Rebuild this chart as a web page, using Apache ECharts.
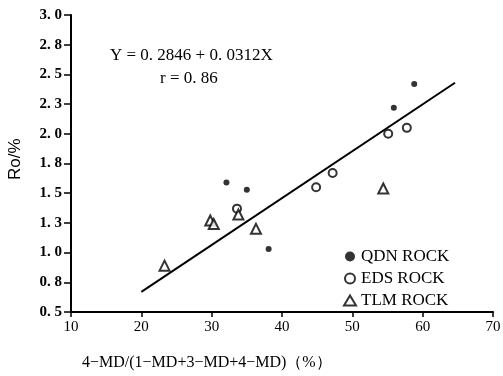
<!DOCTYPE html>
<html>
<head>
<meta charset="utf-8">
<script src="https://cdn.jsdelivr.net/npm/echarts@6/dist/echarts.min.js"></script>
<style>html,body{margin:0;padding:0;background:#fff;}#c{width:503px;height:376px;}</style>
</head>
<body>
<div id="c"></div>
<script>
var qdnX = [32.1, 35.0, 38.1, 55.9, 58.8];
var qdnY = [1.59, 1.53, 1.03, 2.22, 2.42];
var edsX = [33.6, 44.85, 47.2, 55.1, 57.75];
var edsY = [1.37, 1.55, 1.67, 2.00, 2.05];
var tlmX = [23.3, 29.8, 30.3, 33.8, 36.3, 54.4];
var tlmY = [0.89, 1.27, 1.24, 1.32, 1.20, 1.54];
var fitX = [20, 64.6];
var fitY = [0.67, 2.43];
var yTicks = ['0. 5','0. 8','1. 0','1. 3','1. 5','1. 8','2. 0','2. 3','2. 5','2. 8','3. 0'];
var seriesNames = ['QDN ROCK', 'EDS ROCK', 'TLM ROCK'];
var eqText = 'Y = 0. 2846 + 0. 0312X';
var rText = 'r = 0. 86';
var xTitle = '4\u2212MD/(1\u2212MD+3\u2212MD+4\u2212MD)（%）';
var yTitle = 'Ro/%';

function pairs(xs, ys){ return xs.map(function(x,i){ return [x, ys[i]]; }); }

var serif = '"Liberation Serif", "DejaVu Serif", serif';
var chart = echarts.init(document.getElementById('c'));
chart.setOption({
  animation: false,
  backgroundColor: '#fff',
  grid: { left: 71, right: 10, top: 15, bottom: 64, containLabel: false, outerBoundsMode: 'none' },
  xAxis: {
    type: 'value', min: 10, max: 70, interval: 10,
    axisLine: { lineStyle: { color: '#000', width: 2 } },
    axisTick: { show: true, length: 5, lineStyle: { color: '#000', width: 1.5 } },
    axisLabel: { color: '#000', fontFamily: serif, fontSize: 15, margin: 8 },
    splitLine: { show: false }
  },
  yAxis: {
    type: 'value', min: 0.5, max: 3.0, interval: 0.25,
    axisLine: { lineStyle: { color: '#000', width: 2 } },
    axisTick: { show: true, length: 7, lineStyle: { color: '#000', width: 1.5 } },
    axisLabel: {
      color: '#000', fontFamily: serif, fontSize: 15, fontWeight: 'bold', margin: 9,
      formatter: function(v){ var i = Math.round((v - 0.5) / 0.25); return yTicks[i] || ''; }
    },
    splitLine: { show: false }
  },
  legend: {
    orient: 'vertical', left: 338, top: 243, itemGap: 5,
    itemWidth: 12, itemHeight: 10,
    textStyle: { color: '#000', fontFamily: serif, fontSize: 17 },
    data: seriesNames
  },
  graphic: [
    { type: 'text', left: 110, top: 47, style: { text: eqText, fill: '#000', font: '17px ' + serif } },
    { type: 'text', left: 160, top: 70, style: { text: rText, fill: '#000', font: '17px ' + serif } },
    { type: 'text', left: 82, top: 355, style: { text: xTitle, fill: '#000', font: '16px ' + serif } },
    { type: 'text', x: 7, y: 180, rotation: Math.PI / 2, style: { text: yTitle, fill: '#000', font: '17px "Liberation Sans", Arial, sans-serif' } }
  ],
  series: [
    { name: seriesNames[0], type: 'scatter', symbol: 'circle', symbolSize: 6,
      itemStyle: { color: '#000' }, data: pairs(qdnX, qdnY) },
    { name: seriesNames[1], type: 'scatter', symbol: 'emptyCircle', symbolSize: 8,
      itemStyle: { color: '#000', borderColor: '#000', borderWidth: 1.8 }, data: pairs(edsX, edsY) },
    { name: seriesNames[2], type: 'scatter', symbol: 'emptyTriangle', symbolSize: 10,
      itemStyle: { color: '#000', borderColor: '#000', borderWidth: 1.6 }, data: pairs(tlmX, tlmY) },
    { name: 'fit', type: 'line', symbol: 'none', lineStyle: { color: '#000', width: 2 },
      data: pairs(fitX, fitY), z: 1 }
  ]
});
</script>
</body>
</html>
